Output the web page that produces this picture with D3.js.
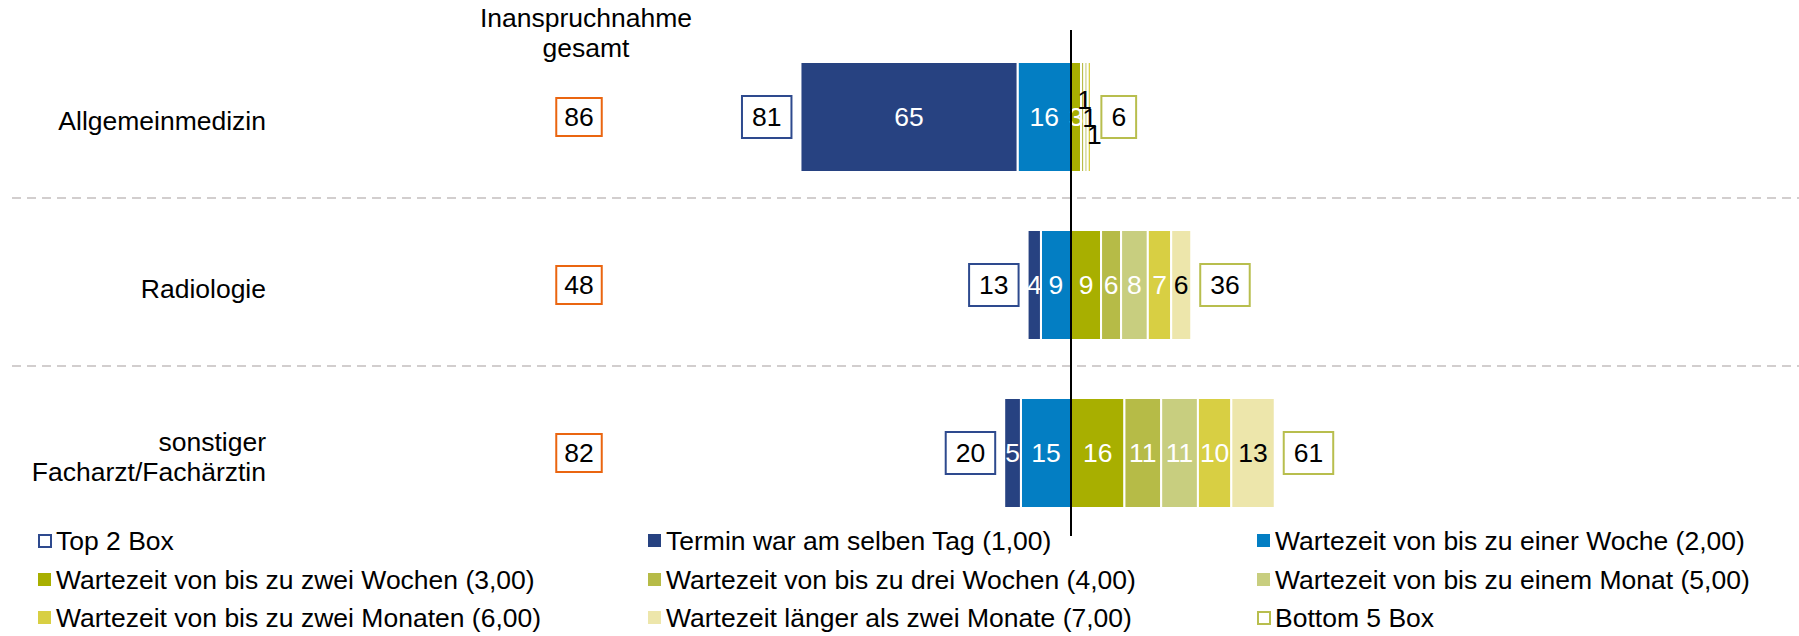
<!DOCTYPE html>
<html>
<head>
<meta charset="utf-8">
<script src="https://cdn.jsdelivr.net/npm/d3@7"></script>
<style>
  body { margin: 0; background: #fff; }
  svg text { font-family: "Liberation Sans", Arial, sans-serif; }
</style>
</head>
<body>
<script>
// Größe der Grafik
const width = 1799;
const height = 636;
const fontSize = 26.5;

// Daten (Werte in Prozent)
const rows = ["Allgemeinmedizin", "Radiologie", "sonstiger|Facharzt/Fachärztin"];
const gesamt = [86, 48, 82];
const top2 = [81, 13, 20];
const bottom5 = [6, 36, 61];
const tag1 = [65, 4, 5];        // Termin war am selben Tag (1,00)
const woche1 = [16, 9, 15];     // bis zu einer Woche (2,00)
const woche2 = [3, 9, 16];      // bis zu zwei Wochen (3,00)
const woche3 = [1, 6, 11];      // bis zu drei Wochen (4,00)
const monat1 = [1, 8, 11];      // bis zu einem Monat (5,00)
const monat2 = [1, 7, 10];      // bis zu zwei Monaten (6,00)
const laenger = [0.4, 6, 13];   // länger als zwei Monate (7,00)

const legendLabels = [
  "Top 2 Box", "Termin war am selben Tag (1,00)", "Wartezeit von bis zu einer Woche (2,00)",
  "Wartezeit von bis zu zwei Wochen (3,00)", "Wartezeit von bis zu drei Wochen (4,00)", "Wartezeit von bis zu einem Monat (5,00)",
  "Wartezeit von bis zu zwei Monaten (6,00)", "Wartezeit länger als zwei Monate (7,00)", "Bottom 5 Box"
];

const colors = {
  tag1: "#274281", woche1: "#037ec3", woche2: "#a8af00", woche3: "#b6bb47",
  monat1: "#c8ce7f", monat2: "#d8cf43", laenger: "#ede6ab",
  top2: "#2e4a8e", bottom5: "#b8be4e", gesamt: "#ea6510"
};

// linke Seite: nach außen, rechte Seite: nach außen
const leftSeries = [
  { key: "woche1", values: woche1 },
  { key: "tag1", values: tag1 }
];
const rightSeries = [
  { key: "woche2", values: woche2 },
  { key: "woche3", values: woche3 },
  { key: "monat1", values: monat1 },
  { key: "monat2", values: monat2 },
  { key: "laenger", values: laenger }
];

const svg = d3.select("body").append("svg")
  .attr("width", width)
  .attr("height", height);

const x = d3.scaleLinear().domain([-100, 100]).range([737, 1405]);
const y = d3.scaleBand().domain(rows).range([33, 537]);
const barH = 110;

// gestrichelte Trennlinien
svg.selectAll("line.sep")
  .data(rows.slice(1))
  .enter().append("line")
  .attr("class", "sep")
  .attr("x1", 12).attr("x2", width)
  .attr("y1", d => y(d) - 3).attr("y2", d => y(d) - 3)
  .attr("stroke", "#d2cece")
  .attr("stroke-width", 2)
  .attr("stroke-dasharray", "9,6");

// Zeilenbeschriftung
rows.forEach(function(r) {
  const lines = r.split("|");
  const cy = y(r) + y.bandwidth() / 2 + 4;
  const t = svg.append("text")
    .attr("text-anchor", "end")
    .attr("font-size", fontSize)
    .attr("fill", "#000");
  lines.forEach(function(l, i) {
    t.append("tspan")
      .attr("x", 266)
      .attr("y", cy + (i - (lines.length - 1) / 2) * 30)
      .attr("dy", "0.35em")
      .text(l);
  });
});

// Überschrift Inanspruchnahme
svg.append("text")
  .attr("text-anchor", "middle")
  .attr("font-size", fontSize)
  .selectAll("tspan")
  .data(["Inanspruchnahme", "gesamt"])
  .enter().append("tspan")
  .attr("x", 586)
  .attr("y", (d, i) => 27 + i * 30)
  .text(d => d);

// Hilfsfunktion: Box mit Zahl
function valueBox(cx, cy, value, stroke, h, pad, anchor) {
  const g = svg.append("g");
  const rect = g.append("rect");
  const t = g.append("text")
    .attr("font-size", fontSize)
    .attr("text-anchor", "middle")
    .attr("dy", "0.35em")
    .text(value);
  const w = t.node().getComputedTextLength() + pad;
  let left = cx - w / 2;
  if (anchor === "end") left = cx - w;
  if (anchor === "start") left = cx;
  t.attr("x", left + w / 2).attr("y", cy);
  rect.attr("x", left).attr("y", cy - h / 2)
    .attr("width", w).attr("height", h)
    .attr("fill", "#fff")
    .attr("stroke", stroke)
    .attr("stroke-width", 2);
}

// Balken
const barLayer = svg.append("g");
const labelLayer = svg.append("g");

rows.forEach(function(r, i) {
  const cy = y(r) + y.bandwidth() / 2;
  let small = 0;

  function drawSeg(s, x0, x1) {
    const v = s.values[i];
    const xl = Math.min(x(x0), x(x1));
    const w = Math.abs(x(x1) - x(x0));
    barLayer.append("rect")
      .attr("x", xl).attr("y", cy - barH / 2)
      .attr("width", w).attr("height", barH)
      .attr("fill", colors[s.key])
      .attr("stroke", "#fff")
      .attr("stroke-width", 2);
    const lab = Math.round(v);
    if (lab === 0) return;
    let ty = cy, fill = s.key === "laenger" ? "#000" : "#fff", tx = xl + w / 2;
    if (w < 6) {
      // sehr schmale Segmente: Beschriftung versetzt
      ty = cy + [-17, 1, 18][small % 3];
      tx = xl + w / 2 + 2 + small * 1.5;
      fill = "#000";
      small++;
    }
    labelLayer.append("text")
      .attr("x", tx).attr("y", ty)
      .attr("dy", "0.35em")
      .attr("text-anchor", "middle")
      .attr("font-size", fontSize)
      .attr("fill", fill)
      .text(lab);
  }

  let acc = 0;
  leftSeries.forEach(function(s) {
    drawSeg(s, -acc, -(acc + s.values[i]));
    acc += s.values[i];
  });
  const leftEnd = acc;
  acc = 0;
  rightSeries.forEach(function(s) {
    drawSeg(s, acc, acc + s.values[i]);
    acc += s.values[i];
  });
  const rightEnd = acc;

  valueBox(x(-leftEnd) - 9, cy, top2[i], colors.top2, 42, 20, "end");
  valueBox(x(rightEnd) + 9, cy, bottom5[i], colors.bottom5, 42, 20, "start");
  valueBox(579, cy, gesamt[i], colors.gesamt, 38, 16, "middle");
});

// Nulllinie
svg.append("line")
  .attr("x1", x(0)).attr("x2", x(0))
  .attr("y1", 30).attr("y2", 536)
  .attr("stroke", "#000")
  .attr("stroke-width", 2);

// Legende
const legendKeys = ["top2", "tag1", "woche1", "woche2", "woche3", "monat1", "monat2", "laenger", "bottom5"];
const colX = [38, 648, 1257];
const rowY = [541, 580, 618];

const leg = svg.selectAll("g.leg")
  .data(legendKeys)
  .enter().append("g")
  .attr("class", "leg")
  .attr("transform", (d, i) => `translate(${colX[i % 3]},${rowY[Math.floor(i / 3)]})`);

const hollow = d => d === "top2" || d === "bottom5";

leg.append("rect")
  .attr("x", d => hollow(d) ? 1 : 0)
  .attr("y", d => hollow(d) ? -6 : -7)
  .attr("width", d => hollow(d) ? 12 : 13)
  .attr("height", d => hollow(d) ? 12 : 13)
  .attr("fill", d => hollow(d) ? "#fff" : colors[d])
  .attr("stroke", d => hollow(d) ? colors[d] : "none")
  .attr("stroke-width", 2);

leg.append("text")
  .attr("x", 18)
  .attr("dy", "0.35em")
  .attr("font-size", fontSize)
  .text((d, i) => legendLabels[i]);
</script>
</body>
</html>
